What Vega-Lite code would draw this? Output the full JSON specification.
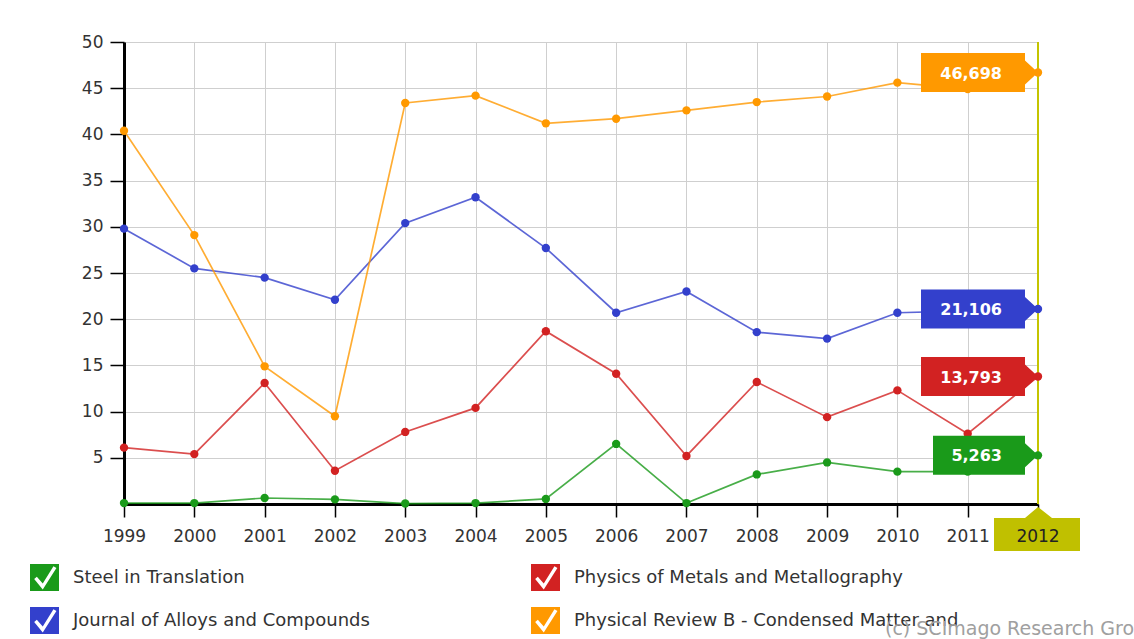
{
  "$schema": "https://vega.github.io/schema/vega-lite/v6.json",
  "width": 914,
  "height": 462,
  "autosize": "none",
  "padding": {"left": 124, "top": 42, "right": 96, "bottom": 135},
  "background": "white",
  "config": {
    "locale": {"number": {"decimal": ",", "thousands": ".", "grouping": [3], "currency": ["", ""]}},
    "view": {"stroke": null},
    "font": "DejaVu Sans"
  },
  "title": {
    "text": "(c) SCImago Research Group",
    "orient": "bottom",
    "anchor": "start",
    "frame": "group",
    "dx": 761,
    "offset": 1,
    "baseline": "alphabetic",
    "color": "#a0a0a0",
    "font": "DejaVu Sans",
    "fontSize": 19,
    "fontWeight": "normal"
  },
  "datasets": {
    "s": [
      {"year": 1999, "journal": "Steel in Translation", "value": 0.1},
      {"year": 2000, "journal": "Steel in Translation", "value": 0.1},
      {"year": 2001, "journal": "Steel in Translation", "value": 0.65},
      {"year": 2002, "journal": "Steel in Translation", "value": 0.5},
      {"year": 2003, "journal": "Steel in Translation", "value": 0.05},
      {"year": 2004, "journal": "Steel in Translation", "value": 0.1},
      {"year": 2005, "journal": "Steel in Translation", "value": 0.55},
      {"year": 2006, "journal": "Steel in Translation", "value": 6.5},
      {"year": 2007, "journal": "Steel in Translation", "value": 0.1},
      {"year": 2008, "journal": "Steel in Translation", "value": 3.2},
      {"year": 2009, "journal": "Steel in Translation", "value": 4.5},
      {"year": 2010, "journal": "Steel in Translation", "value": 3.5},
      {"year": 2011, "journal": "Steel in Translation", "value": 3.5},
      {"year": 2012, "journal": "Steel in Translation", "value": 5.263},
      {"year": 1999, "journal": "Physics of Metals and Metallography", "value": 6.1},
      {"year": 2000, "journal": "Physics of Metals and Metallography", "value": 5.4},
      {"year": 2001, "journal": "Physics of Metals and Metallography", "value": 13.1},
      {"year": 2002, "journal": "Physics of Metals and Metallography", "value": 3.6},
      {"year": 2003, "journal": "Physics of Metals and Metallography", "value": 7.8},
      {"year": 2004, "journal": "Physics of Metals and Metallography", "value": 10.4},
      {"year": 2005, "journal": "Physics of Metals and Metallography", "value": 18.7},
      {"year": 2006, "journal": "Physics of Metals and Metallography", "value": 14.1},
      {"year": 2007, "journal": "Physics of Metals and Metallography", "value": 5.2},
      {"year": 2008, "journal": "Physics of Metals and Metallography", "value": 13.2},
      {"year": 2009, "journal": "Physics of Metals and Metallography", "value": 9.4},
      {"year": 2010, "journal": "Physics of Metals and Metallography", "value": 12.3},
      {"year": 2011, "journal": "Physics of Metals and Metallography", "value": 7.6},
      {"year": 2012, "journal": "Physics of Metals and Metallography", "value": 13.793},
      {"year": 1999, "journal": "Journal of Alloys and Compounds", "value": 29.8},
      {"year": 2000, "journal": "Journal of Alloys and Compounds", "value": 25.5},
      {"year": 2001, "journal": "Journal of Alloys and Compounds", "value": 24.5},
      {"year": 2002, "journal": "Journal of Alloys and Compounds", "value": 22.1},
      {"year": 2003, "journal": "Journal of Alloys and Compounds", "value": 30.4},
      {"year": 2004, "journal": "Journal of Alloys and Compounds", "value": 33.2},
      {"year": 2005, "journal": "Journal of Alloys and Compounds", "value": 27.7},
      {"year": 2006, "journal": "Journal of Alloys and Compounds", "value": 20.7},
      {"year": 2007, "journal": "Journal of Alloys and Compounds", "value": 23.0},
      {"year": 2008, "journal": "Journal of Alloys and Compounds", "value": 18.6},
      {"year": 2009, "journal": "Journal of Alloys and Compounds", "value": 17.9},
      {"year": 2010, "journal": "Journal of Alloys and Compounds", "value": 20.7},
      {"year": 2011, "journal": "Journal of Alloys and Compounds", "value": 20.9},
      {"year": 2012, "journal": "Journal of Alloys and Compounds", "value": 21.106},
      {"year": 1999, "journal": "Physical Review B - Condensed Matter and", "value": 40.4},
      {"year": 2000, "journal": "Physical Review B - Condensed Matter and", "value": 29.1},
      {"year": 2001, "journal": "Physical Review B - Condensed Matter and", "value": 14.9},
      {"year": 2002, "journal": "Physical Review B - Condensed Matter and", "value": 9.5},
      {"year": 2003, "journal": "Physical Review B - Condensed Matter and", "value": 43.4},
      {"year": 2004, "journal": "Physical Review B - Condensed Matter and", "value": 44.2},
      {"year": 2005, "journal": "Physical Review B - Condensed Matter and", "value": 41.2},
      {"year": 2006, "journal": "Physical Review B - Condensed Matter and", "value": 41.7},
      {"year": 2007, "journal": "Physical Review B - Condensed Matter and", "value": 42.6},
      {"year": 2008, "journal": "Physical Review B - Condensed Matter and", "value": 43.5},
      {"year": 2009, "journal": "Physical Review B - Condensed Matter and", "value": 44.1},
      {"year": 2010, "journal": "Physical Review B - Condensed Matter and", "value": 45.6},
      {"year": 2011, "journal": "Physical Review B - Condensed Matter and", "value": 44.9},
      {"year": 2012, "journal": "Physical Review B - Condensed Matter and", "value": 46.698}
    ]
  },
  "data": {"name": "s"},
  "layer": [
    {
      "transform": [{"filter": "datum.year == 2012 && datum.journal == 'Steel in Translation'"}],
      "mark": {"type": "rule", "color": "#c4c400", "strokeWidth": 2},
      "encoding": {
        "x": {"field": "year", "type": "quantitative", "scale": {"domain": [1999, 2012], "nice": false, "zero": false}}
      }
    },
    {
      "mark": {"type": "line", "strokeWidth": 1.7, "opacity": 0.8},
      "encoding": {
        "x": {
          "field": "year", "type": "quantitative",
          "scale": {"domain": [1999, 2012], "nice": false, "zero": false},
          "axis": {
            "title": null,
            "values": [1999, 2000, 2001, 2002, 2003, 2004, 2005, 2006, 2007, 2008, 2009, 2010, 2011, 2012],
            "format": "d",
            "labelExpr": "datum.value == 2012 ? '' : datum.label",
            "grid": true, "gridColor": "#cfcfcf", "gridWidth": 1,
            "domainColor": "#000000", "domainWidth": 3,
            "tickColor": "#000000", "tickWidth": 1.5, "tickSize": 13,
            "labelFont": "DejaVu Sans", "labelFontSize": 17, "labelColor": "#333333",
            "labelPadding": 11, "labelFlush": false, "labelOverlap": false
          }
        },
        "y": {
          "field": "value", "type": "quantitative",
          "scale": {"domain": [0, 50], "nice": false},
          "axis": {
            "title": null,
            "values": [5, 10, 15, 20, 25, 30, 35, 40, 45, 50],
            "grid": true, "gridColor": "#cfcfcf", "gridWidth": 1,
            "domainColor": "#000000", "domainWidth": 3,
            "tickColor": "#000000", "tickWidth": 1.5, "tickSize": 14,
            "labelFont": "DejaVu Sans", "labelFontSize": 17, "labelColor": "#333333",
            "labelPadding": 7
          }
        },
        "color": {
          "field": "journal", "type": "nominal",
          "scale": {
            "domain": ["Steel in Translation", "Journal of Alloys and Compounds", "Physics of Metals and Metallography", "Physical Review B - Condensed Matter and"],
            "range": ["#1a9a1a", "#3340cc", "#d22222", "#ff9900"]
          },
          "legend": {
            "title": null,
            "orient": "none",
            "legendX": -94,
            "legendY": 521,
            "columns": 2,
            "columnPadding": 161,
            "rowPadding": 15,
            "padding": 0,
            "symbolType": "M-1,-0.93 L1,-0.93 L1,0.93 L-1,0.93 Z M-0.712,0.097 L-0.12,0.82 L0.822,-0.656 L0.618,-0.784 L-0.12,0.42 L-0.528,-0.057 Z",
            "symbolSize": 841,
            "symbolStrokeWidth": 0,
            "symbolOpacity": 1,
            "labelFont": "DejaVu Sans",
            "labelFontSize": 18,
            "labelColor": "#333333",
            "labelOffset": 14,
            "labelLimit": 600,
            "encode": {
              "symbols": {"update": {"fill": {"scale": "color", "field": "value"}, "stroke": {"value": "transparent"}, "opacity": {"value": 1}}}
            }
          }
        }
      }
    },
    {
      "mark": {"type": "point", "filled": true, "size": 70, "opacity": 1},
      "encoding": {
        "x": {"field": "year", "type": "quantitative"},
        "y": {"field": "value", "type": "quantitative"},
        "color": {"field": "journal", "type": "nominal", "legend": null}
      }
    },
    {
      "transform": [{"filter": "datum.year == 2012"}],
      "mark": {"type": "point", "filled": true, "size": 4, "opacity": 1, "strokeWidth": 0},
      "encoding": {
        "x": {"field": "year", "type": "quantitative"},
        "y": {"field": "value", "type": "quantitative"},
        "color": {"field": "journal", "type": "nominal", "legend": null},
        "shape": {
          "condition": {"test": "datum.value < 10", "value": "M0,0 L-13,-12 L-13,-19.5 L-105,-19.5 L-105,19.5 L-13,19.5 L-13,12 Z"},
          "value": "M0,0 L-13,-12 L-13,-19.5 L-117,-19.5 L-117,19.5 L-13,19.5 L-13,12 Z"
        }
      }
    },
    {
      "transform": [{"filter": "datum.year == 2012"}],
      "mark": {"type": "text", "align": "right", "baseline": "middle", "dx": -36, "dy": 1, "color": "#ffffff", "font": "DejaVu Sans", "fontWeight": "bold", "fontSize": 16},
      "encoding": {
        "x": {"field": "year", "type": "quantitative"},
        "y": {"field": "value", "type": "quantitative"},
        "text": {"field": "value", "type": "quantitative", "format": ".3f"}
      }
    },
    {
      "transform": [{"filter": "datum.year == 2012 && datum.journal == 'Steel in Translation'"}],
      "mark": {"type": "point", "filled": true, "size": 4, "opacity": 1, "strokeWidth": 0, "color": "#c0c000", "shape": "M0,3 L14,14 L42,14 L42,47 L-44,47 L-44,14 L-13,14 Z"},
      "encoding": {
        "x": {"field": "year", "type": "quantitative"},
        "y": {"datum": 0, "type": "quantitative"}
      }
    },
    {
      "transform": [{"filter": "datum.year == 2012 && datum.journal == 'Steel in Translation'"}],
      "mark": {"type": "text", "align": "center", "baseline": "alphabetic", "dy": 38, "color": "#222222", "font": "DejaVu Sans", "fontSize": 17},
      "encoding": {
        "x": {"field": "year", "type": "quantitative"},
        "y": {"datum": 0, "type": "quantitative"},
        "text": {"field": "year", "type": "quantitative", "format": "d"}
      }
    }
  ]
}
